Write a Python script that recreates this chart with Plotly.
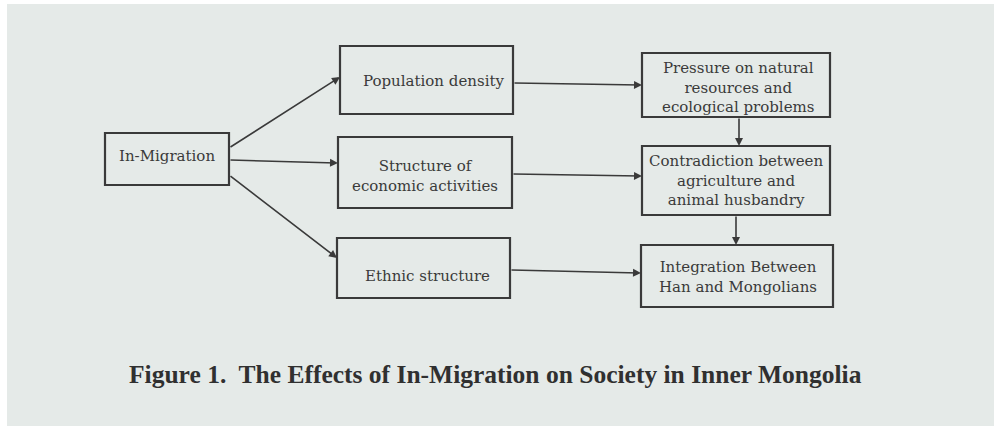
import plotly.graph_objects as go

# ---- data ----
node_ids = ["mig", "pop", "eco", "eth", "pres", "contra", "integ"]
node_labels = [
    "In-Migration",
    "Population density",
    "Structure of<br>economic activities",
    "Ethnic structure",
    "Pressure on natural<br>resources and<br>ecological problems",
    "Contradiction between<br>agriculture and<br>animal husbandry",
    "Integration Between<br>Han and Mongolians",
]
edges_from = ["mig", "mig", "mig", "pop", "eco", "eth", "pres", "contra"]
edges_to = ["pop", "eco", "eth", "pres", "contra", "integ", "contra", "integ"]
caption = "Figure 1.  The Effects of In-Migration on Society in Inner Mongolia"

# ---- layout (pixel boxes: x0, y0, x1, y1) ----
boxes = {
    "mig": (105, 133, 229, 185),
    "pop": (340, 46, 513, 114),
    "eco": (338, 137, 512, 208),
    "eth": (337, 238, 510, 298),
    "pres": (642, 53, 830, 117),
    "contra": (642, 146, 830, 215),
    "integ": (641, 245, 833, 307),
}
# arrow endpoints (start, end) in pixels
arrow_pts = [
    ((229, 148), (340, 77)),
    ((229, 160), (338, 163)),
    ((229, 175), (337, 258)),
    ((513, 83), (642, 85)),
    ((512, 174), (642, 176)),
    ((510, 270), (641, 273)),
    ((739, 117), (739, 146)),
    ((736, 215), (736, 245)),
]
text_pos = {
    "mig": (167, 156),
    "pop": (433, 81),
    "eco": (425, 176),
    "eth": (427, 276),
    "pres": (738, 87),
    "contra": (736, 180),
    "integ": (738, 277),
}

W, H = 994, 426
BG = "#e5eae8"
INK = "#3a3a3a"
FONT = "DejaVu Serif"

fig = go.Figure()
fig.add_trace(go.Scatter(x=[0, W], y=[0, H], mode="markers",
                         marker=dict(opacity=0), hoverinfo="skip", showlegend=False))

shapes = [dict(type="rect", x0=7, y0=4, x1=W, y1=H, xref="x", yref="y",
               fillcolor=BG, line=dict(width=0), layer="below")]
for nid in node_ids:
    x0, y0, x1, y1 = boxes[nid]
    shapes.append(dict(type="rect", x0=x0, y0=y0, x1=x1, y1=y1, xref="x", yref="y",
                       line=dict(color=INK, width=2.2), fillcolor="rgba(0,0,0,0)"))

annotations = []
for nid, lab in zip(node_ids, node_labels):
    tx, ty = text_pos[nid]
    annotations.append(dict(x=tx, y=ty, xref="x", yref="y", text=lab, showarrow=False,
                            font=dict(family=FONT, size=15, color=INK), align="center"))

for (s, e), f, t in zip(arrow_pts, edges_from, edges_to):
    annotations.append(dict(x=e[0], y=e[1], ax=s[0], ay=s[1], xref="x", yref="y",
                            axref="x", ayref="y", text="", showarrow=True,
                            arrowhead=2, arrowsize=1.0, arrowwidth=1.6, arrowcolor=INK,
                            standoff=0, startstandoff=0))

annotations.append(dict(x=495, y=374, xref="x", yref="y", text="<b>" + caption + "</b>",
                        showarrow=False, font=dict(family="Liberation Serif", size=25.5, color="#303030")))

fig.update_layout(
    width=W, height=H, margin=dict(l=0, r=0, t=0, b=0),
    paper_bgcolor="white", plot_bgcolor="white",
    xaxis=dict(range=[0, W], visible=False, fixedrange=True),
    yaxis=dict(range=[H, 0], visible=False, fixedrange=True),
    shapes=shapes, annotations=annotations, showlegend=False,
)
fig.write_html("out.html", config={"displayModeBar": False})

with open("out.html", encoding="utf-8") as fh:
    html = fh.read()
html = html.replace("<head>", "<head><style>html,body{margin:0;padding:0;overflow:hidden;}</style>", 1)
with open("out.html", "w", encoding="utf-8") as fh:
    fh.write(html)
